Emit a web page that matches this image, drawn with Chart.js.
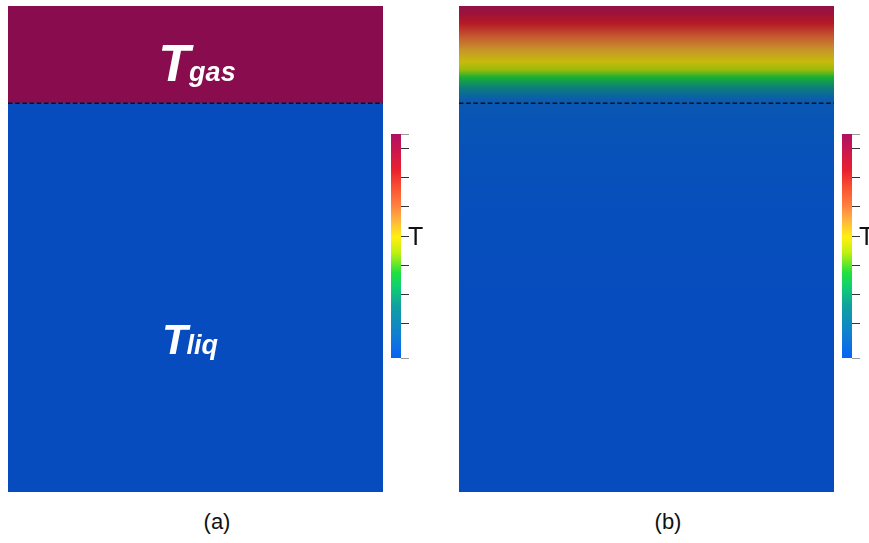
<!DOCTYPE html>
<html>
<head>
<meta charset="utf-8">
<script src="https://cdn.jsdelivr.net/npm/chart.js@4.4.1/dist/chart.umd.min.js"></script>
<style>
  body { margin: 0; background: #fff; width: 869px; height: 543px; overflow: hidden; position: relative;
         font-family: "Liberation Sans", Arial, sans-serif; }
  canvas { position: absolute; }
  .caption { position: absolute; top: 511px; font-size: 22px; line-height: 22px; color: #111;
             transform: translateX(-50%); white-space: nowrap; }
</style>
</head>
<body>
<canvas id="panelA" width="375" height="486" style="left:8px;top:6px"></canvas>
<canvas id="barA" width="48" height="232" style="left:391px;top:130px"></canvas>
<canvas id="panelB" width="375" height="486" style="left:459px;top:6px"></canvas>
<canvas id="barB" width="48" height="232" style="left:842px;top:130px"></canvas>
<script>
// temperatures (K)
var tLiquid = 288.15;
var tGas = 365;
var colorbarTicks = [288.15, 300, 310, 320, 330, 340, 350, 360, 365];
var colorbarTitle = 'T';

// layers of the domain, heights in units of the liquid depth
var layerNames = ['liq', 'gas'];
var layerBottoms = [0, 1.0];
var layerTops = [1.0, 1.25];
var interfaceHeight = 1.0;

// temperature profile after heating (panel b)
var profileHeight = [0, 0.5, 0.7, 0.85, 0.95, 1.0, 1.016, 1.039, 1.067, 1.085, 1.106, 1.137, 1.170, 1.206, 1.232, 1.25];
var profileTemp = [288.15, 288.15, 288.8, 289.7, 290.8, 292.0, 295.8, 305.8, 317.4, 324.3, 329.6, 334.3, 341.9, 352.7, 359.6, 361.9];

var captions = ['(a)', '(b)'];
var captionCenters = [217, 668];

// rainbow colour map, position 0..1 -> rgb
var rainbow = [
  [0.00, [8, 98, 244]],
  [0.11, [16, 128, 208]],
  [0.23, [16, 160, 160]],
  [0.32, [16, 208, 112]],
  [0.38, [32, 224, 64]],
  [0.47, [192, 240, 16]],
  [0.54, [255, 240, 16]],
  [0.62, [255, 176, 64]],
  [0.68, [255, 128, 64]],
  [0.765, [248, 80, 48]],
  [0.84, [232, 32, 48]],
  [1.00, [176, 16, 100]]
];
var shade = 0.78; // lighting on the rendered domain

function mapColor(t, k) {
  var s = Math.max(0, Math.min(1, (t - tLiquid) / (tGas - tLiquid)));
  var c = rainbow[rainbow.length - 1][1];
  for (var i = 1; i < rainbow.length; i++) {
    if (s <= rainbow[i][0]) {
      var a = rainbow[i - 1], b = rainbow[i];
      var f = (s - a[0]) / (b[0] - a[0]);
      c = [0, 1, 2].map(function(j) { return a[1][j] + f * (b[1][j] - a[1][j]); });
      break;
    }
  }
  k = k || 1;
  return 'rgb(' + c.map(function(v) { return Math.round(v * k); }).join(',') + ')';
}

// T with a subscript, drawn inside each layer
var layerLabels = {
  id: 'layerLabels',
  afterDatasetsDraw: function(chart, args, opts) {
    if (!opts.items) return;
    var ctx = chart.ctx, area = chart.chartArea, y = chart.scales.y;
    ctx.save();
    ctx.fillStyle = '#ffffff';
    ctx.textBaseline = 'alphabetic';
    ctx.textAlign = 'left';
    opts.items.forEach(function(item) {
      var big = 'italic bold ' + item.size + 'px "Liberation Sans", Arial, sans-serif';
      var small = 'italic bold 27px "Liberation Sans", Arial, sans-serif';
      ctx.font = big;
      var wMain = ctx.measureText('T').width;
      ctx.font = small;
      var wSub = ctx.measureText(item.sub).width;
      var x0 = (area.left + area.right) / 2 - (wMain + wSub) / 2 + item.dx;
      var by = y.getPixelForValue(item.at);
      ctx.font = big;
      ctx.fillText('T', x0, by);
      ctx.font = small;
      ctx.fillText(item.sub, x0 + wMain - 1, by);
    });
    ctx.restore();
  }
};

// upright title beside the colour bar
var barTitle = {
  id: 'barTitle',
  afterDraw: function(chart) {
    var ctx = chart.ctx, area = chart.chartArea;
    ctx.save();
    ctx.fillStyle = '#111';
    ctx.font = '25px "Liberation Sans", Arial, sans-serif';
    ctx.textBaseline = 'middle';
    ctx.fillText(colorbarTitle, area.right + 7, (area.top + area.bottom) / 2 - 8);
    ctx.restore();
  }
};

// dashed line at the liquid/gas interface, drawn over the layers
function interfaceLine() {
  return {
    type: 'line', xAxisID: 'xw', order: 0,
    data: [{x: 0, y: interfaceHeight}, {x: 1, y: interfaceHeight}],
    borderColor: '#111', borderWidth: 1.5, borderDash: [4.5, 2.7],
    pointRadius: 0, clip: false
  };
}

function panelOptions(labels) {
  return {
    responsive: false, animation: false, events: [],
    layout: { padding: 0 },
    plugins: { legend: { display: false }, tooltip: { enabled: false }, layerLabels: { items: labels } },
    scales: {
      x: { display: false },
      xw: { type: 'linear', display: false, min: 0, max: 1, offset: false, grid: { offset: false } },
      y: { display: false, min: 0, max: layerTops[layerTops.length - 1] }
    }
  };
}

var barStyle = { barPercentage: 1, categoryPercentage: 1, grouped: false, borderWidth: 0, order: 1 };

// (a) initial state: two uniform layers
var labelStyle = [
  { at: 0.355, size: 42, dx: -5 },
  { at: 1.057, size: 52, dx: 2 }
];
new Chart(document.getElementById('panelA'), {
  type: 'bar',
  data: {
    labels: ['domain'],
    datasets: layerNames.map(function(name, i) {
      return Object.assign({
        label: name,
        data: [[layerBottoms[i], layerTops[i]]],
        backgroundColor: mapColor(i === 0 ? tLiquid : tGas, shade)
      }, barStyle);
    }).concat([interfaceLine()])
  },
  options: panelOptions(layerNames.map(function(name, i) {
    return Object.assign({ sub: name }, labelStyle[i]);
  })),
  plugins: [layerLabels]
});

// (b) heated state: colour follows the temperature profile
function profileFill(context) {
  var chart = context.chart, area = chart.chartArea;
  if (!area) return 'transparent';
  var y = chart.scales.y;
  var top = layerTops[layerTops.length - 1];
  var g = chart.ctx.createLinearGradient(0, y.getPixelForValue(0), 0, y.getPixelForValue(top));
  profileHeight.forEach(function(h, i) {
    g.addColorStop(h / top, mapColor(profileTemp[i], shade));
  });
  return g;
}

new Chart(document.getElementById('panelB'), {
  type: 'bar',
  data: {
    labels: ['domain'],
    datasets: [Object.assign({
      label: 'T',
      data: [[0, layerTops[layerTops.length - 1]]],
      backgroundColor: profileFill
    }, barStyle), interfaceLine()]
  },
  options: panelOptions([])
});

// colour bars
function barFill(context) {
  var chart = context.chart;
  if (!chart.chartArea) return 'transparent';
  var y = chart.scales.y;
  var g = chart.ctx.createLinearGradient(0, y.getPixelForValue(tLiquid), 0, y.getPixelForValue(tGas));
  rainbow.forEach(function(stop) {
    g.addColorStop(stop[0], 'rgb(' + stop[1].join(',') + ')');
  });
  return g;
}

function colorBar(id) {
  new Chart(document.getElementById(id), {
    type: 'bar',
    data: {
      labels: [colorbarTitle],
      datasets: [Object.assign({ data: [[tLiquid, tGas]], backgroundColor: barFill }, barStyle)]
    },
    options: {
      responsive: false, animation: false, events: [],
      layout: { padding: { top: 4, bottom: 4 } },
      plugins: { legend: { display: false }, tooltip: { enabled: false } },
      scales: {
        x: { display: false },
        y: {
          position: 'right', min: tLiquid, max: tGas,
          afterFit: function(s) { s.width = 38; },
          afterBuildTicks: function(s) {
            s.ticks = colorbarTicks.map(function(v) { return { value: v }; });
          },
          ticks: { display: false },
          border: { display: false },
          grid: {
            drawOnChartArea: false, drawTicks: true, tickLength: 8, lineWidth: 1,
            color: function(c) {
              var v = c.tick ? c.tick.value : 0;
              return (v === tLiquid || v === tGas) ? '#9a9a9a' : '#333';
            }
          }
        }
      }
    },
    plugins: [barTitle]
  });
}
colorBar('barA');
colorBar('barB');

captions.forEach(function(text, i) {
  var d = document.createElement('div');
  d.className = 'caption';
  d.style.left = captionCenters[i] + 'px';
  d.textContent = text;
  document.body.appendChild(d);
});
</script>
</body>
</html>
